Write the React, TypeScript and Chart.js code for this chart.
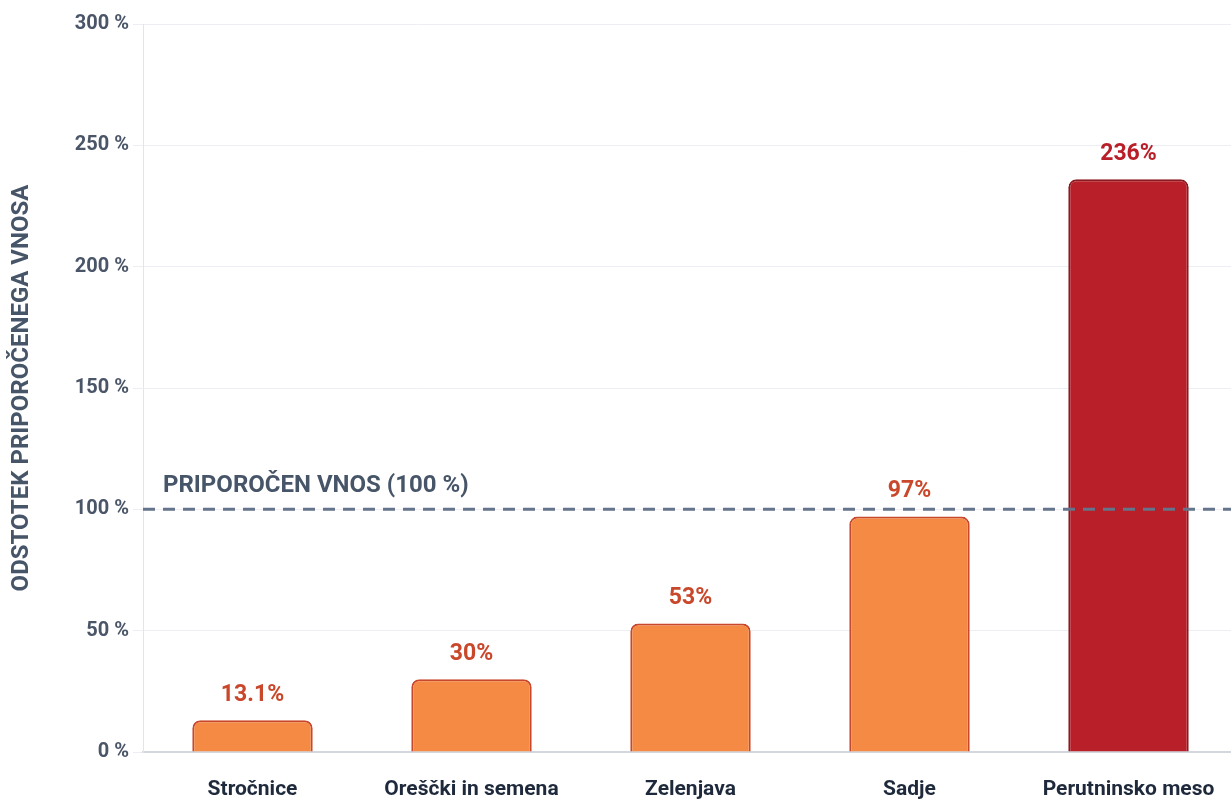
import React, { useEffect, useRef } from "react";
import { Chart, registerables } from "chart.js";

Chart.register(...registerables);

const categories = ["Stročnice", "Oreščki in semena", "Zelenjava", "Sadje", "Perutninsko meso"];
const values = [13.1, 30, 53, 97, 236];
const valueLabels = ["13.1%", "30%", "53%", "97%", "236%"];
const barColors = ["#F58A45", "#F58A45", "#F58A45", "#F58A45", "#B91F28"];
const borderColors = ["#C9472A", "#C9472A", "#C9472A", "#C9472A", "#8A1A20"];
const labelColors = ["#C9472A", "#C9472A", "#C9472A", "#C9472A", "#B91F28"];
const referenceValue = 100;
const referenceLabel = "PRIPOROČEN VNOS (100 %)";
const yTitle = "ODSTOTEK PRIPOROČENEGA VNOSA";

const FONT = "Roboto, 'Noto Sans', sans-serif";

export default function App() {
  const ref = useRef<HTMLCanvasElement | null>(null);
  useEffect(() => {
    document.body.style.margin = "0";
    document.body.style.overflow = "hidden";
    if (!ref.current) return;
    const refLine = {
      id: "refLine",
      afterDatasetsDraw(chart: any) {
        const { ctx, chartArea, scales } = chart;
        const y = scales.y.getPixelForValue(referenceValue);
        ctx.save();
        ctx.strokeStyle = "#64748B";
        ctx.lineWidth = 3;
        ctx.setLineDash([12, 8]);
        ctx.beginPath();
        ctx.moveTo(chartArea.left, y);
        ctx.lineTo(chartArea.right, y);
        ctx.stroke();
        ctx.setLineDash([]);
        ctx.fillStyle = "#475569";
        ctx.font = `bold 24px ${FONT}`;
        ctx.textAlign = "left";
        ctx.textBaseline = "middle";
        ctx.fillText(referenceLabel, chartArea.left + 20, y - 23);
        ctx.restore();
      },
    };
    const dataLabels = {
      id: "dataLabels",
      afterDatasetsDraw(chart: any) {
        const { ctx } = chart;
        const meta = chart.getDatasetMeta(0);
        ctx.save();
        ctx.font = `bold 23px ${FONT}`;
        ctx.textAlign = "center";
        ctx.textBaseline = "middle";
        meta.data.forEach((bar: any, i: number) => {
          ctx.fillStyle = labelColors[i];
          ctx.fillText(valueLabels[i], bar.x, bar.y - 25);
        });
        ctx.restore();
      },
    };
    const chart = new Chart(ref.current, {
      type: "bar",
      data: {
        labels: categories,
        datasets: [
          {
            data: values,
            backgroundColor: barColors,
            borderColor: borderColors,
            borderWidth: 2,
            borderSkipped: "bottom",
            borderRadius: { topLeft: 8, topRight: 8, bottomLeft: 0, bottomRight: 0 },
            categoryPercentage: 1,
            barPercentage: 0.55,
          },
        ],
      },
      options: {
        animation: false,
        responsive: false,
        maintainAspectRatio: false,
        layout: { padding: { top: 24, right: 0, left: 0, bottom: 0 } },
        plugins: { legend: { display: false }, tooltip: { enabled: false } },
        scales: {
          x: {
            grid: { display: false },
            border: { display: true, color: "#D4D7DD", width: 2 },
            ticks: {
              color: "#1E293B",
              font: { family: FONT, size: 21, weight: "bold" },
              padding: 17,
            },
            afterFit(scale: any) {
              scale.height = 47;
            },
          },
          y: {
            min: 0,
            max: 300,
            ticks: {
              stepSize: 50,
              color: "#4A5568",
              font: { family: FONT, size: 20, weight: "bold" },
              padding: 4,
              callback: (v: any) => `${v} %`,
            },
            grid: { color: "#ECEEF4", tickLength: 10, drawTicks: true },
            border: { display: true, color: "#E2E5EC" },
            title: {
              display: true,
              text: yTitle,
              color: "#475569",
              font: { family: FONT, size: 24, weight: "bold" },
              padding: { top: 8, bottom: 0 },
            },
            afterFit(scale: any) {
              scale.width = 143;
            },
          },
        },
      },
      plugins: [refLine, dataLabels],
    });
    return () => chart.destroy();
  }, []);
  return (
    <div style={{ position: "absolute", left: 0, top: 0, width: 1231, height: 799, overflow: "hidden" }}>
      <canvas ref={ref} width={1238} height={799} style={{ width: 1238, height: 799, display: "block" }} />
    </div>
  );
}
